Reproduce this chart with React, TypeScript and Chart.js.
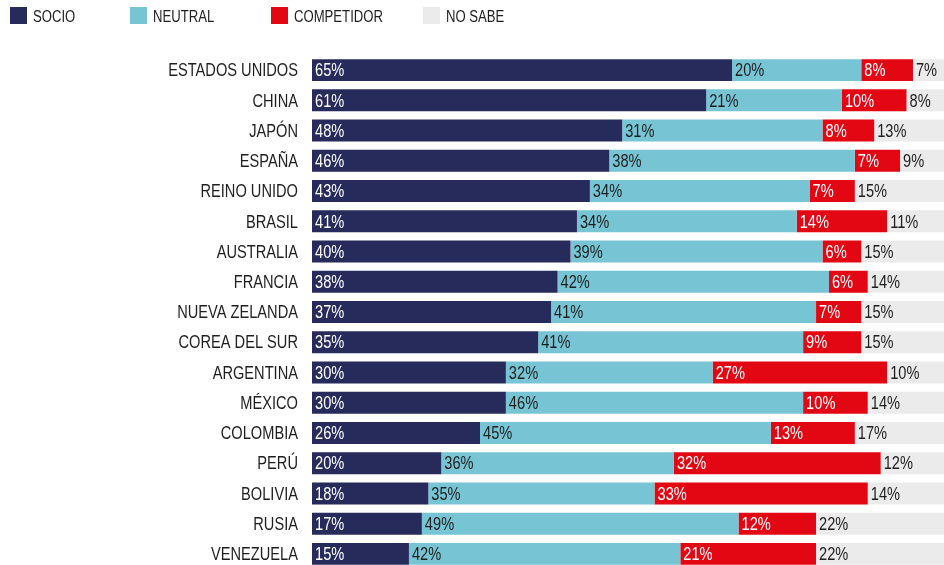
import React, { useEffect, useRef } from "react";
import { Chart, registerables } from "chart.js";

Chart.register(...registerables);

const categories = [
  "ESTADOS UNIDOS", "CHINA", "JAPÓN", "ESPAÑA", "REINO UNIDO", "BRASIL", "AUSTRALIA",
  "FRANCIA", "NUEVA ZELANDA", "COREA DEL SUR", "ARGENTINA", "MÉXICO", "COLOMBIA",
  "PERÚ", "BOLIVIA", "RUSIA", "VENEZUELA",
];
const socio = [65, 61, 48, 46, 43, 41, 40, 38, 37, 35, 30, 30, 26, 20, 18, 17, 15];
const neutral = [20, 21, 31, 38, 34, 34, 39, 42, 41, 41, 32, 46, 45, 36, 35, 49, 42];
const competidor = [8, 10, 8, 7, 7, 14, 6, 6, 7, 9, 27, 10, 13, 32, 33, 12, 21];
const noSabe = [7, 8, 13, 9, 15, 11, 15, 14, 15, 15, 10, 14, 17, 12, 14, 22, 22];

const seriesNames = ["SOCIO", "NEUTRAL", "COMPETIDOR", "NO SABE"];
const colors = ["#272b5b", "#77c4d4", "#e30613", "#ebebeb"];
const labelColors = ["#ffffff", "#1e1e1e", "#ffffff", "#1e1e1e"];
const legendBoxX = [10, 130, 271, 423];
const legendTextX = [33, 153, 294, 446];

const FONT = "'Liberation Sans', Arial, sans-serif";

function narrowText(ctx: any, text: string, x: number, y: number, align: "left" | "right", squeeze: number) {
  ctx.save();
  ctx.translate(x, y);
  ctx.scale(squeeze, 1);
  ctx.textAlign = align;
  ctx.fillText(text, 0, 0);
  ctx.restore();
}

const textPlugin = {
  id: "textPlugin",
  afterDatasetsDraw(chart: any) {
    const ctx = chart.ctx;
    ctx.save();
    ctx.font = `19px ${FONT}`;
    ctx.textBaseline = "middle";
    chart.data.datasets.forEach((ds: any, i: number) => {
      const meta = chart.getDatasetMeta(i);
      meta.data.forEach((bar: any, j: number) => {
        const left = Math.min(bar.base, bar.x);
        ctx.fillStyle = labelColors[i];
        narrowText(ctx, `${ds.data[j]}%`, left + 3, bar.y + 1, "left", 0.77);
      });
    });
    const yScale = chart.scales.y;
    ctx.fillStyle = "#1e1e1e";
    categories.forEach((c, i) => {
      narrowText(ctx, c, chart.chartArea.left - 14, yScale.getPixelForValue(i) + 1, "right", 0.77);
    });
    ctx.font = `16px ${FONT}`;
    seriesNames.forEach((name, i) => {
      ctx.fillStyle = colors[i];
      ctx.fillRect(legendBoxX[i], 7, 17, 17);
      ctx.fillStyle = "#1e1e1e";
      narrowText(ctx, name, legendTextX[i], 18, "left", 0.82);
    });
    ctx.restore();
  },
};

export default function App() {
  const ref = useRef<HTMLCanvasElement>(null);
  useEffect(() => {
    if (!ref.current) return;
    const series = [socio, neutral, competidor, noSabe];
    const chart = new Chart(ref.current, {
      type: "bar",
      data: {
        labels: categories,
        datasets: series.map((d, i) => ({
          label: seriesNames[i],
          data: d,
          backgroundColor: colors[i],
          borderWidth: 0,
          barPercentage: 0.727,
          categoryPercentage: 1,
        })),
      },
      options: {
        indexAxis: "y",
        responsive: false,
        animation: false,
        layout: { padding: { top: 55, left: 0, right: 0, bottom: 0 } },
        plugins: {
          legend: { display: false },
          tooltip: { enabled: false },
        },
        scales: {
          x: {
            stacked: true,
            display: false,
            min: 0,
            max: 97.8,
          },
          y: {
            stacked: true,
            grid: { display: false, drawTicks: false },
            border: { display: false },
            ticks: { display: false },
            afterFit(scale: any) {
              scale.width = 312;
            },
          },
        },
      },
      plugins: [textPlugin],
    });
    return () => chart.destroy();
  }, []);
  return (
    <div style={{ position: "fixed", left: 0, top: 0, width: 944, height: 565, overflow: "hidden", background: "#fff" }}>
      <canvas ref={ref} width={944} height={569} style={{ display: "block" }} />
    </div>
  );
}
